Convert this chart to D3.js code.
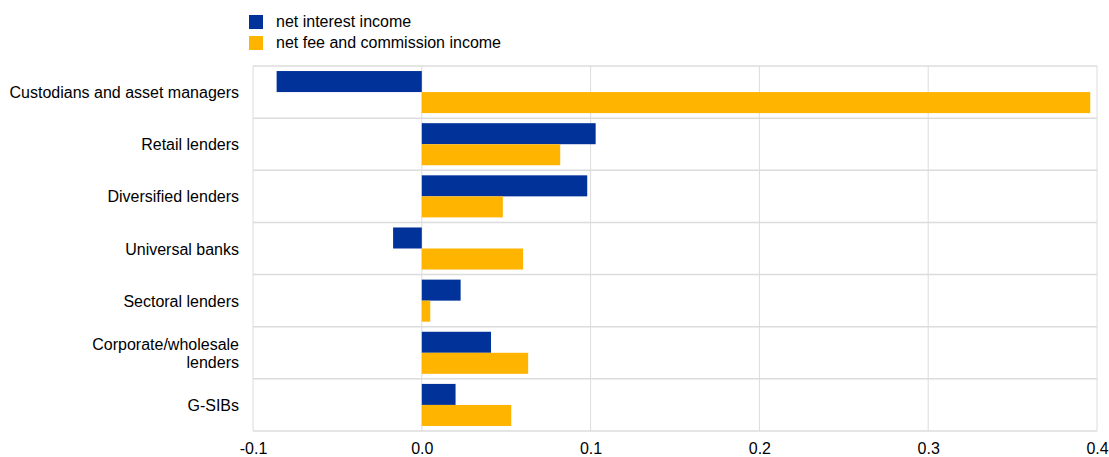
<!DOCTYPE html>
<html><head><meta charset="utf-8">
<script src="https://cdn.jsdelivr.net/npm/d3@7"></script>
<style>body{margin:0;background:#fff}svg{display:block;font-family:"Liberation Sans",Arial,sans-serif}</style>
</head><body>
<script>
const categories = ["Custodians and asset managers","Retail lenders","Diversified lenders","Universal banks","Sectoral lenders","Corporate/wholesale lenders","G-SIBs"];
const categoryLines = [["Custodians and asset managers"],["Retail lenders"],["Diversified lenders"],["Universal banks"],["Sectoral lenders"],["Corporate/wholesale","lenders"],["G-SIBs"]];
const seriesNames = ["net interest income","net fee and commission income"];
const netInterest = [-0.086, 0.103, 0.098, -0.017, 0.023, 0.041, 0.020];
const netFee = [0.396, 0.082, 0.048, 0.060, 0.005, 0.063, 0.053];
const xTicks = [-0.1, 0.0, 0.1, 0.2, 0.3, 0.4];
const colors = ["#003299", "#FFB400"];

const W = 1109, H = 457;
const m = {left: 253, right: 12, top: 66, bottom: 26};
const FS = 16;
const svg = d3.select("body").append("svg").attr("width", W).attr("height", H);

const x = d3.scaleLinear().domain([-0.1, 0.4]).range([m.left, W - m.right]);
const y = d3.scaleBand().domain(categories).range([m.top, H - m.bottom]);
const inner = d3.scaleBand().domain(seriesNames).range([0, y.bandwidth()]).paddingOuter(0.24).paddingInner(0);

// grid
const g = svg.append("g");
g.selectAll(".vg").data(xTicks).join("line")
  .attr("x1", d => x(d)).attr("x2", d => x(d))
  .attr("y1", m.top).attr("y2", H - m.bottom)
  .attr("stroke", "#dcdcdc").attr("stroke-width", 1);
const hb = categories.map(c => y(c)).concat([H - m.bottom]);
g.selectAll(".hg").data(hb).join("line")
  .attr("x1", m.left).attr("x2", W - m.right)
  .attr("y1", d => d).attr("y2", d => d)
  .attr("stroke", "#dcdcdc").attr("stroke-width", 1.5);

// bars
const rows = categories.map((c, i) => ({c, vals: [netInterest[i], netFee[i]]}));
rows.forEach(r => {
  svg.append("g").selectAll("rect").data(r.vals).join("rect")
    .attr("x", d => x(Math.min(0, d)))
    .attr("width", d => Math.abs(x(d) - x(0)))
    .attr("y", (d, j) => y(r.c) + inner(seriesNames[j]))
    .attr("height", inner.bandwidth())
    .attr("fill", (d, j) => colors[j]);
});

// x axis labels
const xa = svg.append("g").attr("transform", `translate(0,${H - m.bottom})`)
  .call(d3.axisBottom(x).tickValues(xTicks).tickFormat(d => d3.format(".1f")(d).replace("\u2212", "-")).tickSize(0).tickPadding(12));
xa.select(".domain").remove();
xa.selectAll("text").attr("font-size", FS).attr("fill", "#000").attr("font-family", "Liberation Sans, Arial, sans-serif");

// y labels
categories.forEach((c, i) => {
  const lines = categoryLines[i];
  const cy = y(c) + y.bandwidth() / 2;
  const t = svg.append("text").attr("x", 239).attr("text-anchor", "end")
    .attr("font-size", FS).attr("fill", "#000");
  lines.forEach((l, k) => {
    t.append("tspan").attr("x", 239)
      .attr("y", cy + 6 + (k - (lines.length - 1) / 2) * 18)
      .text(l);
  });
});

// legend
const lg = svg.append("g");
seriesNames.forEach((s, i) => {
  lg.append("rect").attr("x", 249).attr("y", 15 + i * 21).attr("width", 14).attr("height", 14).attr("fill", colors[i]);
  lg.append("text").attr("x", 276).attr("y", 27 + i * 21).attr("font-size", FS).attr("fill", "#000").text(s);
});
</script>
</body></html>
